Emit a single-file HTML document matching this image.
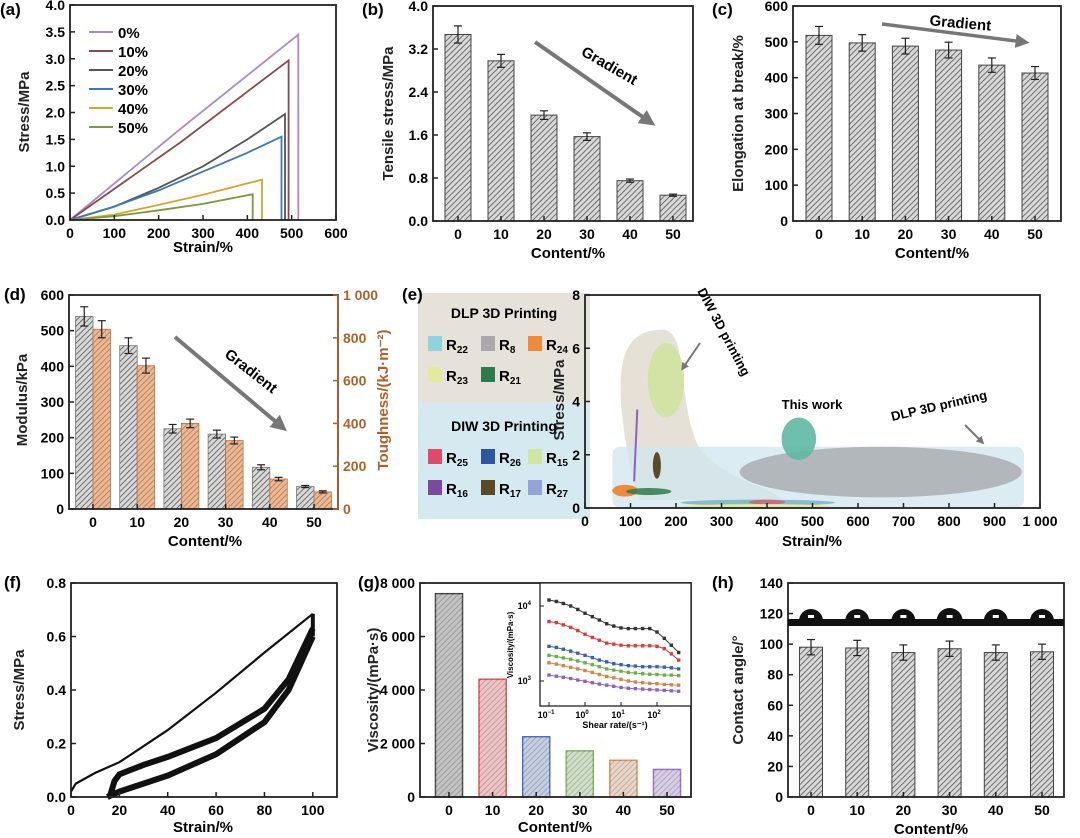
<!DOCTYPE html>
<html><head><meta charset="utf-8">
<style>
html,body{margin:0;padding:0;background:#fff;}
svg{display:block;font-family:"Liberation Sans",Arial,sans-serif;font-weight:bold;}
</style></head>
<body>
<svg id="fig" width="1080" height="838" viewBox="0 0 1080 838" xmlns="http://www.w3.org/2000/svg">
<defs>
<pattern id="hatch" patternUnits="userSpaceOnUse" width="4" height="4" patternTransform="rotate(45)"><rect width="4" height="4" fill="#d8d8d8"/><line x1="0" y1="0" x2="0" y2="4" stroke="#555" stroke-width="1.6"/></pattern>
<pattern id="hatchTan" patternUnits="userSpaceOnUse" width="4" height="4" patternTransform="rotate(45)"><rect width="4" height="4" fill="#e9b896"/><line x1="0" y1="0" x2="0" y2="4" stroke="#b8764a" stroke-width="1.6"/></pattern>
<marker id="arr" viewBox="0 0 10 10" refX="6" refY="5" markerWidth="4" markerHeight="4" orient="auto"><path d="M0,0L10,5L0,10z" fill="#777"/></marker>
</defs>
</svg>
<script>
// ---------- data ----------
const aSeries = ['0%','10%','20%','30%','40%','50%'];
const aColors = ['#a98bc8','#8a4a4a','#555555','#3a78b8','#d4a630','#7a9a3a'];
const aStrain0 = [0,250,515]; const aStress0 = [0,1.7,3.45];
const aStrain1 = [0,250,493]; const aStress1 = [0,1.45,2.97];
const aStrain2 = [0,100,200,300,400,485]; const aStress2 = [0,0.25,0.6,1.0,1.5,1.97];
const aStrain3 = [0,100,200,300,400,477]; const aStress3 = [0,0.25,0.55,0.9,1.25,1.55];
const aStrain4 = [0,100,200,300,433]; const aStress4 = [0,0.1,0.28,0.47,0.75];
const aStrain5 = [0,100,200,300,412]; const aStress5 = [0,0.07,0.18,0.3,0.48];
const contents = ['0','10','20','30','40','50'];
const bStress = [3.47,2.98,1.97,1.57,0.75,0.48];
const bErr = [0.16,0.12,0.08,0.07,0.03,0.02];
const cElong = [518,497,488,477,435,413];
const cErr = [25,23,22,22,20,18];
const dModulus = [540,458,225,210,117,63];
const dModErr = [27,22,12,11,7,3];
const dTough = [840,670,400,320,140,80];
const dTouErr = [40,35,20,16,8,5];
const eNames = ['R22','R8','R24','R23','R21','R25','R26','R15','R16','R17','R27'];
const fLoadX = [0,2,10,20,40,60,80,100];
const fLoadY = [0.02,0.05,0.09,0.13,0.25,0.39,0.54,0.685];
const fCycleX = [15,20,30,40,60,80,90,100];
const fCycleLow = [0,0.02,0.05,0.08,0.16,0.28,0.4,0.6];
const fCycleUpX = [16,18,20,30,40,60,80,90,100];
const fCycleUp = [0,0.06,0.085,0.12,0.15,0.22,0.33,0.44,0.63];
const gVisc = [7600,4400,2250,1720,1370,1030];
const gColors = ['#333333','#e23a3a','#3a5fb8','#6cb04a','#d9824a','#8a64c0'];
const gShear = [0.1,0.16,0.25,0.4,0.63,1,1.6,2.5,4,6.3,10,16,25,40,63,100,160,250,400];
const gI0 = [12000,11500,10800,10000,9000,8000,7200,6500,5800,5400,5100,5000,5000,5000,5000,4500,3700,3000,2400];
const gI1 = [6200,6000,5600,5200,4700,4200,3800,3500,3200,3100,3000,2950,2950,2950,2950,2900,2700,2300,1900];
const gI2 = [2900,2800,2650,2500,2350,2200,2050,1900,1800,1700,1650,1600,1580,1550,1550,1550,1530,1500,1450];
const gI3 = [2200,2120,2030,1950,1850,1750,1650,1550,1450,1400,1350,1300,1280,1250,1230,1220,1200,1200,1180];
const gI4 = [1750,1680,1600,1520,1450,1380,1300,1220,1150,1100,1050,1000,970,950,930,920,900,890,880];
const gI5 = [1200,1160,1120,1080,1030,990,950,910,880,850,820,800,790,780,770,760,750,740,730];
const hAngle = [98,97.5,94.5,97,94.5,95];
const hErr = [5,5,5,5,5,5];

// ---------- helpers ----------
const NS='http://www.w3.org/2000/svg';
const svg=document.getElementById('fig');
function mk(tag,attrs,parent){const e=document.createElementNS(NS,tag);for(const k in attrs)e.setAttribute(k,attrs[k]);(parent||svg).appendChild(e);return e;}
function txt(s,x,y,size,anchor,parent,extra){const t=mk('text',Object.assign({x:x,y:y,'font-size':size,'text-anchor':anchor||'middle'},extra||{}),parent);t.textContent=s;return t;}
function lin(d0,d1,r0,r1){return v=>r0+(v-d0)/(d1-d0)*(r1-r0);}
function frame(g,x0,x1,y0,y1){const r=mk('rect',{x:x0,y:y1,width:x1-x0,height:y0-y1,fill:'none',stroke:'#222','stroke-width':1.8},g);}
function yAxis(g,sy,x0,ticks,labels,side){
  const ga=mk('g',{},g);
  ticks.forEach((v,i)=>{const y=sy(v);const dx=side==='r'?-5:5;
    mk('line',{x1:x0,x2:x0+dx,y1:y,y2:y,stroke:side==='r'?'#b0612a':'#222','stroke-width':1.5},ga);
    const t=txt(labels[i],side==='r'?x0+5:x0-5,y+5,14,side==='r'?'start':'end',ga,side==='r'?{fill:'#b0612a'}:{});
    });
}
function xAxis(g,sx,y0,ticks,labels){
  const ga=mk('g',{},g);
  ticks.forEach((v,i)=>{const x=sx(v);mk('line',{x1:x,x2:x,y1:y0,y2:y0-5,stroke:'#222','stroke-width':1.5},ga);
    const t=txt(labels[i],x,y0+18,14,'middle',ga);});
}
function xTitle(g,s,x,y){const t=txt(s,x,y,15,'middle',g);}
function yTitle(g,s,x,y,col){const t=txt(s,x,y,15,'middle',g,{transform:'rotate(-90 '+x+' '+y+')',fill:col||'#222'});}
function panelLabel(s,x,y){const t=txt(s,x,y,17,'start');}
function path(xs,ys,sx,sy){return xs.map((v,i)=>(i?'L':'M')+sx(v).toFixed(1)+','+sy(ys[i]).toFixed(1)).join('');}
function errBar(g,x,yv,ev,sy){const a=sy(yv+ev),b=sy(yv-ev);
  mk('line',{x1:x,x2:x,y1:a,y2:b,stroke:'#222','stroke-width':1.2},g);
  mk('line',{x1:x-4,x2:x+4,y1:a,y2:a,stroke:'#222','stroke-width':1.2},g);
  mk('line',{x1:x-4,x2:x+4,y1:b,y2:b,stroke:'#222','stroke-width':1.2},g);}
function arrow(g,x1,y1,x2,y2,w){const l=mk('line',{x1:x1,y1:y1,x2:x2,y2:y2,stroke:'#777','stroke-width':w||4,'marker-end':'url(#arr)'},g);}
function fmtK(v){return v>=1000?Math.floor(v/1000)+' '+String(v%1000).padStart(3,'0'):String(v);}

// ---------- (a) ----------
(function(){
 const g=mk('g',{});
 const sx=lin(0,600,70,336),sy=lin(0,4,220,5);
 const xs=[aStrain0,aStrain1,aStrain2,aStrain3,aStrain4,aStrain5],ys=[aStress0,aStress1,aStress2,aStress3,aStress4,aStress5];
 xs.forEach((X,i)=>{const last=X[X.length-1];
  const p=mk('path',{d:path(X,ys[i],sx,sy)+'L'+sx(last)+','+sy(0),fill:'none',stroke:aColors[i],'stroke-width':1.8},g);
  });
 aSeries.forEach((s,i)=>{const y=32+i*19;
  const le=mk('g',{},g);
  mk('line',{x1:89,x2:113,y1:y,y2:y,stroke:aColors[i],'stroke-width':2},le);txt(s,118,y+6,15,'start',le);});
 frame(g,70,336,220,5);
 yAxis(g,sy,70,[0,0.5,1,1.5,2,2.5,3,3.5,4],['0.0','0.5','1.0','1.5','2.0','2.5','3.0','3.5','4.0']);
 xAxis(g,sx,220,[0,100,200,300,400,500,600],['0','100','200','300','400','500','600']);
 xTitle(g,'Strain/%',203,252);yTitle(g,'Stress/MPa',29,112);
 panelLabel('(a)',0,15);
})();

// ---------- generic bar panel ----------
function barPanel(name,x0,x1,y0,y1,cx0,dx,vals,errs,ymax,yt,yl,ytitle,ytx,fill,bw){
 const g=mk('g',{});
 const sy=lin(0,ymax,y0,y1);const sx=i=>cx0+i*dx;
 vals.forEach((v,i)=>{const r=mk('rect',{x:sx(i)-bw/2,y:sy(v),width:bw,height:y0-sy(v),fill:fill,stroke:'#444','stroke-width':1},g);
  
  errBar(g,sx(i),v,errs[i],sy);});
 frame(g,x0,x1,y0,y1);
 yAxis(g,sy,x0,yt,yl);
 xAxis(g,i=>sx(i),y0,[0,1,2,3,4,5],contents);
 xTitle(g,'Content/%',(x0+x1)/2+5,y0+37);yTitle(g,ytitle,ytx,(y0+y1)/2);
 return g;
}
// (b)
(function(){
 const g=barPanel('panel-b-tensile-stress',433,693,221,6,458,43,bStress,bErr,4,[0,0.8,1.6,2.4,3.2,4],['0.0','0.8','1.6','2.4','3.2','4.0'],'Tensile stress/MPa',393,'url(#hatch)',26);
 arrow(g,535,42,650,122,4);
 const t=txt('Gradient',607,70,15,'middle',g,{transform:'rotate(30 607 70)'});
 panelLabel('(b)',362,15);
})();
// (c)
(function(){
 const g=barPanel('panel-c-elongation',793,1061,221,6,819,43.2,cElong,cErr,600,[0,100,200,300,400,500,600],['0','100','200','300','400','500','600'],'Elongation at break/%',743,'url(#hatch)',26);
 arrow(g,882,24,1024,42,3.5);
 const t=txt('Gradient',960,28,15,'middle',g,{transform:'rotate(5 960 28)'});
 panelLabel('(c)',712,15);
})();

// ---------- (d) ----------
(function(){
 const g=mk('g',{});
 const y0=509,y1=295,x0=69,x1=338;
 const syL=lin(0,600,y0,y1),syR=lin(0,1000,y0,y1),sx=i=>93+i*44.2;
 dModulus.forEach((v,i)=>{const r=mk('rect',{x:sx(i)-17.5,y:syL(v),width:17.5,height:y0-syL(v),fill:'url(#hatch)',stroke:'#777','stroke-width':0.8},g);
  errBar(g,sx(i)-8.75,v,dModErr[i],syL);});
 dTough.forEach((v,i)=>{const r=mk('rect',{x:sx(i),y:syR(v),width:17.5,height:y0-syR(v),fill:'url(#hatchTan)',stroke:'#b8764a','stroke-width':0.8},g);
  errBar(g,sx(i)+8.75,v,dTouErr[i],syR);});
 frame(g,x0,x1,y0,y1);
 mk('line',{x1:x1,x2:x1,y1:y0,y2:y1,stroke:'#b0612a','stroke-width':1.8},g);
 yAxis(g,syL,x0,[0,100,200,300,400,500,600],['0','100','200','300','400','500','600']);
 yAxis(g,syR,x1,[0,200,400,600,800,1000],['0','200','400','600','800','1 000'],'r');
 xAxis(g,sx,y0,[0,1,2,3,4,5],contents);
 xTitle(g,'Content/%',205,546);yTitle(g,'Modulus/kPa',27,400);yTitle(g,'Toughness/(kJ·m⁻²)',388,400,'#b0612a');
 arrow(g,175,337,282,427,4);
 const t=txt('Gradient',248,375,15,'middle',g,{transform:'rotate(38 248 375)'});
 panelLabel('(d)',4,300);
})();

// ---------- (e) ----------
(function(){
 const g=mk('g',{});
 const lg=mk('g',{},g);
 mk('rect',{x:418,y:293,width:172,height:110,fill:'#e6e2da'},lg);
 mk('rect',{x:418,y:403,width:172,height:116,fill:'#d5e9f0'},lg);
 txt('DLP 3D Printing',504,318,14,'middle',lg);txt('DIW 3D Printing',504,431,14,'middle',lg);
 const cols=['#8fd3dc','#a9a9ad','#ef8a3a','#e3eaa0','#2f7a4a','#e04a6a','#2d56a0','#cfe7a0','#7a4aa0','#5a4a2a','#92a5d8'];
 const pos=[[428,346],[481,346],[528,346],[428,377],[481,377],[428,459],[481,459],[528,459],[428,490],[481,490],[528,490]];
 eNames.forEach((n,i)=>{const e=mk('g',{},lg);
  mk('rect',{x:pos[i][0],y:pos[i][1]-10,width:14,height:15,fill:cols[i]},e);
  const t=txt('R',pos[i][0]+18,pos[i][1]+4,15,'start',e);const s=mk('tspan',{'font-size':10,dy:3},t);s.textContent=n.slice(1);});
 const sx=lin(0,1000,585,1040),sy=lin(0,8,508,295);
 const ag=mk('g',{},g);
 mk('path',{d:'M'+sx(100)+','+sy(1.5)+'C'+sx(60)+','+sy(5)+' '+sx(70)+','+sy(6.7)+' '+sx(170)+','+sy(6.7)+'C'+sx(230)+','+sy(6.7)+' '+sx(200)+','+sy(4)+' '+sx(250)+','+sy(2.3)+'C'+sx(300)+','+sy(1)+' '+sx(420)+','+sy(0.8)+' '+sx(430)+','+sy(0.3)+'L'+sx(120)+','+sy(0.3)+'Z',fill:'#e2ded2',opacity:0.9},ag);
 mk('rect',{x:sx(60),y:sy(2.3),width:sx(965)-sx(60),height:sy(0)-sy(2.3),rx:8,fill:'#cfe6ee',opacity:0.75},ag);
 mk('ellipse',{cx:sx(178),cy:sy(4.8),rx:sx(40)-sx(0),ry:sy(0)-sy(1.4),fill:'#cfe3a0',opacity:0.9},ag);
 mk('ellipse',{cx:sx(650),cy:sy(1.35),rx:sx(310)-sx(0),ry:sy(0)-sy(0.95),fill:'#a9aeb1',opacity:0.85},ag);
 mk('ellipse',{cx:sx(470),cy:sy(2.6),rx:sx(38)-sx(0),ry:sy(0)-sy(0.8),fill:'#5fb8a4',opacity:0.9},ag);
 mk('ellipse',{cx:sx(158),cy:sy(1.6),rx:4,ry:sy(0)-sy(0.5),fill:'#5a4a2a'},ag);
 mk('ellipse',{cx:sx(88),cy:sy(0.65),rx:sx(28)-sx(0),ry:sy(0)-sy(0.22),fill:'#ef8a3a'},ag);
 mk('ellipse',{cx:sx(140),cy:sy(0.62),rx:sx(50)-sx(0),ry:sy(0)-sy(0.13),fill:'#2f7a4a',opacity:0.85},ag);
 mk('ellipse',{cx:sx(380),cy:sy(0.2),rx:sx(170)-sx(0),ry:3,fill:'#6fb0c8',opacity:0.8},ag);
 mk('ellipse',{cx:sx(400),cy:sy(0.22),rx:sx(40)-sx(0),ry:2.5,fill:'#e04a6a',opacity:0.7},ag);
 mk('ellipse',{cx:sx(380),cy:sy(0.07),rx:sx(160)-sx(0),ry:2,fill:'#e3eaa0'},ag);
 mk('line',{x1:sx(115),y1:sy(3.7),x2:sx(108),y2:sy(1),stroke:'#8a64c0','stroke-width':2},ag);
 frame(g,585,1040,508,295);
 yAxis(g,sy,585,[0,2,4,6,8],['0','2','4','6','8']);
 xAxis(g,sx,508,[0,100,200,300,400,500,600,700,800,900,1000],['0','100','200','300','400','500','600','700','800','900','1 000']);
 xTitle(g,'Strain/%',812,546);yTitle(g,'Stress/MPa',564,400);
 let t=txt('DIW 3D printing',720,334,13,'middle',g,{transform:'rotate(62 720 334)'});
 arrow(g,700,343,683,368,2);
 t=txt('This work',812,409,13,'middle',g);
 t=txt('DLP 3D printing',940,410,13,'middle',g,{transform:'rotate(-13 940 410)'});
 arrow(g,965,425,982,442,2);
 panelLabel('(e)',402,300);
})();

// ---------- (f) ----------
(function(){
 const g=mk('g',{});
 const sx=lin(0,110,71,337),sy=lin(0,0.8,797,583);
 let p=mk('path',{d:path(fLoadX,fLoadY,sx,sy),fill:'none',stroke:'#111','stroke-width':2.2},g);
 p=mk('path',{d:path(fCycleX,fCycleLow,sx,sy),fill:'none',stroke:'#111','stroke-width':6},g);
 p=mk('path',{d:path(fCycleUpX,fCycleUp,sx,sy),fill:'none',stroke:'#111','stroke-width':6},g);
 mk('line',{x1:sx(100),x2:sx(100),y1:sy(0.6),y2:sy(0.685),stroke:'#111','stroke-width':4},g);
 frame(g,71,337,797,583);
 yAxis(g,sy,71,[0,0.2,0.4,0.6,0.8],['0.0','0.2','0.4','0.6','0.8']);
 xAxis(g,sx,797,[0,20,40,60,80,100],['0','20','40','60','80','100']);
 xTitle(g,'Strain/%',203,832);yTitle(g,'Stress/MPa',24,690);
 panelLabel('(f)',4,588);
})();

// ---------- (g) ----------
(function(){
 const g=mk('g',{});
 const y0=797,y1=583,sy=lin(0,8000,y0,y1),sx=i=>449+i*43.6;
 gVisc.forEach((v,i)=>{const r=mk('rect',{x:sx(i)-13.5,y:sy(v),width:27,height:y0-sy(v),fill:gColors[i],'fill-opacity':0.35,stroke:gColors[i],'stroke-width':1.5},g);
  
  mk('rect',{x:sx(i)-13.5,y:sy(v),width:27,height:y0-sy(v),fill:'url(#hatch)',opacity:0.35},g);});
 frame(g,420,691,y0,y1);
 yAxis(g,sy,420,[0,2000,4000,6000,8000],[0,2000,4000,6000,8000].map(fmtK));
 xAxis(g,sx,y0,[0,1,2,3,4,5],contents);
 xTitle(g,'Content/%',555,832);yTitle(g,'Viscosity/(mPa·s)',378,690);
 const ig=mk('g',{},g);
 mk('rect',{x:540,y:583,width:151,height:123,fill:'#fff',stroke:'#222','stroke-width':1.3},ig);
 const lx=v=>549+(Math.log10(v)+1)*36,ly=v=>681-(Math.log10(v)-3)*75;
 [gI0,gI1,gI2,gI3,gI4,gI5].forEach((s,k)=>{const p=mk('path',{d:path(gShear,s,lx,ly),fill:'none',stroke:gColors[k],'stroke-width':1},ig);
  
  gShear.forEach((x,j)=>{mk('rect',{x:lx(x)-1.7,y:ly(s[j])-1.7,width:3.4,height:3.4,fill:gColors[k]},ig);});});
 [0.1,1,10,100].forEach((v,i)=>{mk('line',{x1:lx(v),x2:lx(v),y1:706,y2:702,stroke:'#222'},ig);
  const t=txt('10',lx(v)-3,718,9,'middle',ig);const s=mk('tspan',{'font-size':6,dy:-4},t);s.textContent=['−1','0','1','2'][i];});
 [[10000,'4'],[1000,'3']].forEach(a=>{mk('line',{x1:540,x2:544,y1:ly(a[0]),y2:ly(a[0]),stroke:'#222'},ig);
  const t=txt('10',535,ly(a[0])+3,9,'end',ig);t.setAttribute('dx','-4');const s=mk('tspan',{'font-size':6,dy:-4},t);s.textContent=a[1];});
 txt('Shear rate/(s⁻¹)',615,728,9,'middle',ig);
 txt('Viscosity/(mPa·s)',513,645,8,'middle',ig,{transform:'rotate(-90 513 645)'});
 panelLabel('(g)',358,588);
})();

// ---------- (h) ----------
(function(){
 const g=barPanel('panel-h-contact-angle',788,1064,797,583,811,46.2,hAngle,hErr,140,[0,20,40,60,80,100,120,140],['0','20','40','60','80','100','120','140'],'Contact angle/°',743,'url(#hatch)',23);
 const s=mk('rect',{x:788,y:619,width:276,height:7,fill:'#111'},g);
 hAngle.forEach((v,i)=>{const cx=811+i*46.2,r=i===3?13:12;const d=mk('path',{d:'M'+(cx-r)+',621A'+r+','+r+' 0 1 1 '+(cx+r)+',621Z',fill:'#111'},g);
  
  mk('rect',{x:cx-3,y:615,width:6,height:3,fill:'#fff'},g);});
 panelLabel('(h)',712,588);
})();
</script>
</body></html>
